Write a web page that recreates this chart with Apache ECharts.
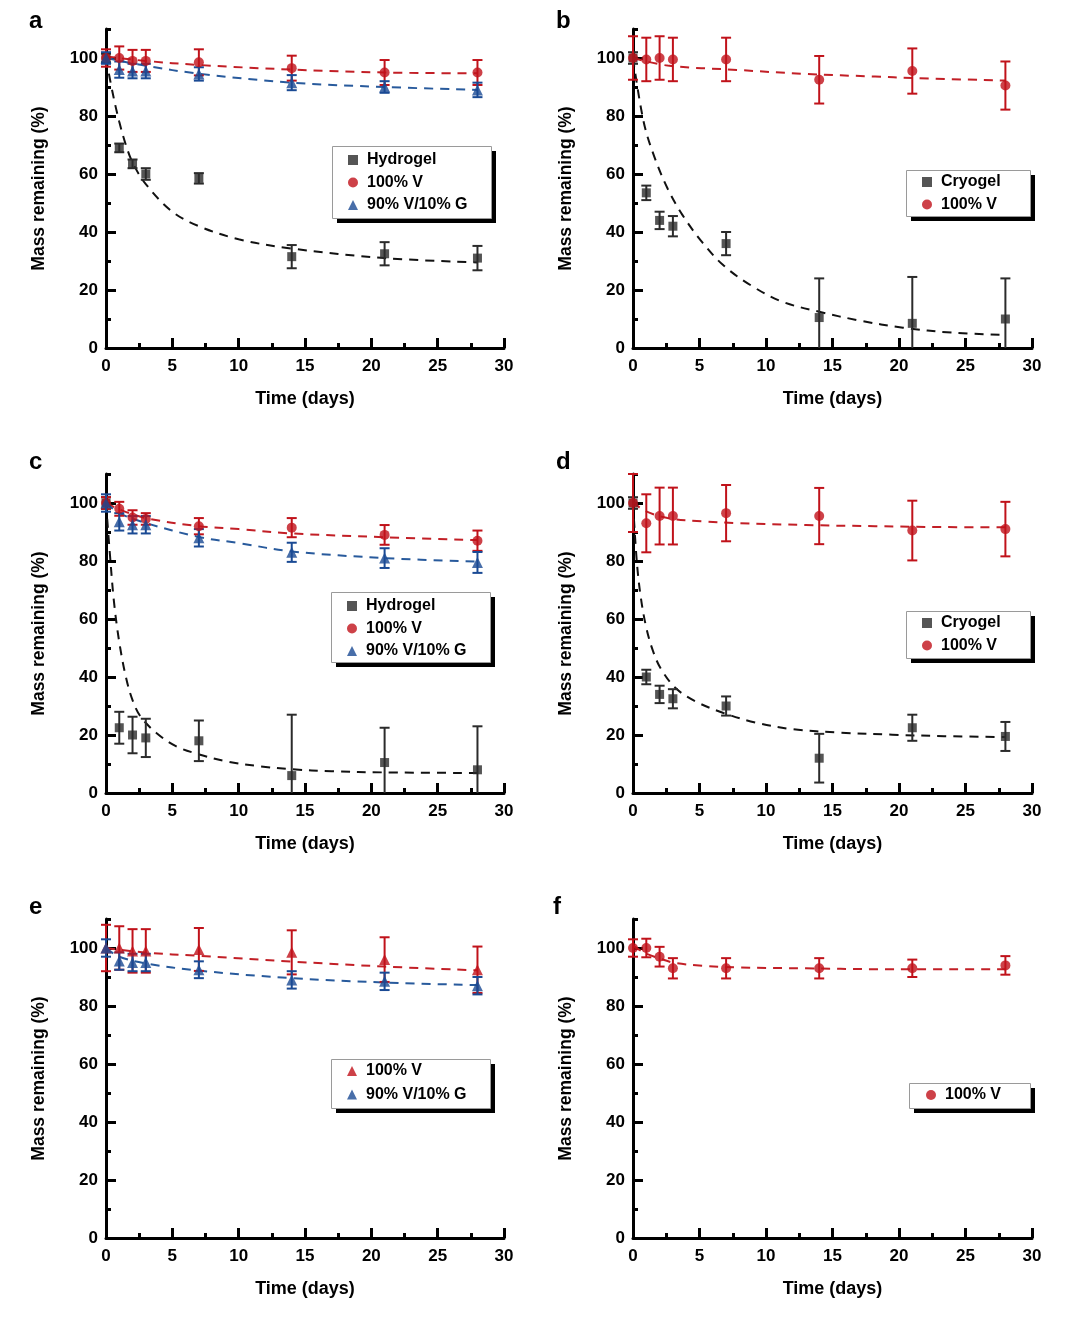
<!DOCTYPE html>
<html>
<head>
<meta charset="utf-8">
<script src="https://cdn.jsdelivr.net/npm/echarts@6/dist/echarts.min.js"></script>
<style>
html,body{margin:0;padding:0;background:#fff;}
#chart{width:1073px;height:1321px;}
</style>
</head>
<body>
<div id="chart"></div>
<script>
// ---------- DATA ----------
const days = [0, 1, 2, 3, 7, 14, 21, 28];
const xTickLabels = [0, 5, 10, 15, 20, 25, 30];
const yTickLabels = [0, 20, 40, 60, 80, 100];
const yMinorTicks = [10, 30, 50, 70, 90, 110];

// panel a
const aHydroMean = [100, 69, 63.5, 60, 58.5, 31.5, 32.5, 31];
const aHydroErr  = [1.5, 1.5, 1.5, 2, 1.8, 4, 4, 4.2];
const aVMean     = [100, 100, 99, 99, 98.5, 96.5, 95, 95];
const aVErr      = [3, 4, 3.8, 3.8, 4.5, 4.3, 4.3, 4.3];
const aVGMean    = [100, 96, 95.5, 95.5, 94.5, 91.5, 90, 89];
const aVGErr     = [2, 2.8, 2.5, 2.5, 2.3, 2.6, 2, 2.5];
const aHydroFitX = [0, 0.5, 1, 1.5, 2, 3, 5, 7, 10, 14, 21, 28];
const aHydroFitY = [100, 88, 78, 70, 64, 56.5, 47, 42, 37.5, 34.3, 31, 29.5];
const aVFitX     = [0, 3, 7, 14, 21, 28];
const aVFitY     = [100.5, 99, 97.6, 96, 95, 94.7];
const aVGFitX    = [0, 3, 7, 14, 21, 28];
const aVGFitY    = [100, 97.3, 94.6, 91.5, 90, 89];

// panel b
const bCryoMean = [100, 53.5, 44, 42, 36, 10.5, 8.5, 10];
const bCryoErr  = [2, 2.5, 3, 3.5, 4, 13.5, 16, 14];
const bVMean    = [100, 99.5, 100, 99.5, 99.5, 92.5, 95.5, 90.5];
const bVErr     = [7.5, 7.5, 7.5, 7.5, 7.5, 8.2, 7.8, 8.3];
const bCryoFitX = [0, 0.8, 1.6, 2.6, 3.7, 5.2, 6.8, 8.9, 11.2, 14, 17, 20.3, 24, 28];
const bCryoFitY = [100, 78, 66, 55, 46, 36.5, 28.5, 21.5, 16, 12.5, 9.5, 7, 5.3, 4.5];
const bVFitX    = [0, 2.6, 7.8, 13, 18.2, 21, 28];
const bVFitY    = [100, 97.4, 95.9, 94.5, 93.6, 93.1, 92.2];

// panel c
const cHydroMean = [100, 22.5, 20, 19, 18, 6, 10.5, 8];
const cHydroErr  = [2, 5.5, 6.3, 6.6, 7, 21, 12, 15];
const cVMean     = [100, 98, 95, 94.5, 92, 91.5, 89, 87];
const cVErr      = [2, 2.4, 2.5, 2, 2.8, 3.3, 3.4, 3.5];
const cVGMean    = [100, 93.5, 92.5, 92.5, 88, 83, 81, 79.5];
const cVGErr     = [3, 3, 3, 3, 3, 3.3, 3.4, 3.6];
const cHydroFitX = [0, 0.3, 0.6, 1, 1.5, 2, 2.6, 3.8, 5.3, 7.1, 9.1, 11.6, 14, 17, 21, 28];
const cHydroFitY = [100, 82, 66, 52, 40, 32, 26.4, 20.7, 16.1, 13.2, 10.9, 9.2, 8.2, 7.5, 7.1, 6.9];
const cVFitX     = [0, 1, 3, 7, 10, 14, 21, 28];
const cVFitY     = [100, 97.8, 94.8, 92, 91, 89.5, 88.2, 87.2];
const cVGFitX    = [0, 1, 3, 7, 10, 14, 21, 28];
const cVGFitY    = [100, 96.5, 93.1, 88.3, 86.2, 83.3, 81, 79.8];

// panel d
const dCryoMean = [100, 40, 34, 32.5, 30, 12, 22.5, 19.5];
const dCryoErr  = [2, 2.5, 3, 3.3, 3.3, 8.4, 4.5, 5];
const dVMean    = [100, 93, 95.5, 95.5, 96.5, 95.5, 90.5, 91];
const dVErr     = [10, 10, 9.8, 9.8, 9.7, 9.7, 10.3, 9.4];
const dCryoFitX = [0, 0.3, 0.6, 1, 1.5, 2.1, 3.2, 4.7, 6.8, 9.2, 12, 15.6, 19.5, 23.4, 28];
const dCryoFitY = [100, 79, 67, 57, 49, 42.8, 36.2, 31.6, 27.6, 24.3, 22, 20.8, 20.1, 19.6, 19.3];
const dVFitX    = [0, 0.8, 2.6, 5.2, 7.8, 13, 18.2, 23.4, 28];
const dVFitY    = [100.5, 97.5, 94.8, 93.7, 93.1, 92.4, 92, 91.7, 91.6];

// panel e
const eVMean  = [100, 100, 99, 99, 99.5, 98.5, 96, 92.5];
const eVErr   = [8, 7.5, 7.5, 7.5, 7.4, 7.6, 7.7, 8];
const eVGMean = [100, 95.5, 95, 95, 92.5, 89, 88.5, 87];
const eVGErr  = [3, 3, 3, 3, 2.9, 3, 3, 3];
const eVFitX  = [0, 3, 7, 14, 21, 28];
const eVFitY  = [100, 98.4, 97.3, 95.3, 93.6, 92.3];
const eVGFitX = [0, 1, 3, 7, 14, 21, 28];
const eVGFitY = [100, 97, 94.7, 92.2, 89.6, 88.1, 87.2];

// panel f
const fVMean = [100, 100, 97, 93, 93, 93, 93, 94];
const fVErr  = [3, 3.2, 3.4, 3.5, 3.5, 3.5, 3, 3.2];
const fVFitX = [0, 0.8, 2.1, 3.2, 5.2, 7.8, 13, 18.2, 28];
const fVFitY = [100.8, 98.5, 96.2, 94.8, 93.9, 93.3, 93, 92.7, 92.7];

// ---------- STYLES ----------
const FONT = '"Liberation Sans", Arial, Helvetica, sans-serif';
const RED = '#c0121a', BLUE = '#1a4a94', DARK = '#2b2b2b';
const kinds = {
  hydro: {name: 'Hydrogel', symbol: 'rect', color: DARK, line: '#111111', size: 9},
  cryo:  {name: 'Cryogel', symbol: 'rect', color: DARK, line: '#111111', size: 9},
  vc:    {name: '100% V', symbol: 'circle', color: RED, line: '#c21f26', size: 10},
  vt:    {name: '100% V', symbol: 'triangle', color: RED, line: '#c21f26', size: 11},
  vg:    {name: '90% V/10% G', symbol: 'triangle', color: BLUE, line: '#285a9c', size: 11}
};

const panels = [
  {label: 'a', groups: [['hydro', aHydroMean, aHydroErr, aHydroFitX, aHydroFitY], ['vc', aVMean, aVErr, aVFitX, aVFitY], ['vg', aVGMean, aVGErr, aVGFitX, aVGFitY]]},
  {label: 'b', groups: [['cryo', bCryoMean, bCryoErr, bCryoFitX, bCryoFitY], ['vc', bVMean, bVErr, bVFitX, bVFitY]]},
  {label: 'c', groups: [['hydro', cHydroMean, cHydroErr, cHydroFitX, cHydroFitY], ['vc', cVMean, cVErr, cVFitX, cVFitY], ['vg', cVGMean, cVGErr, cVGFitX, cVGFitY]]},
  {label: 'd', groups: [['cryo', dCryoMean, dCryoErr, dCryoFitX, dCryoFitY], ['vc', dVMean, dVErr, dVFitX, dVFitY]]},
  {label: 'e', groups: [['vt', eVMean, eVErr, eVFitX, eVFitY], ['vg', eVGMean, eVGErr, eVGFitX, eVGFitY]]},
  {label: 'f', groups: [['vc', fVMean, fVErr, fVFitX, fVFitY]]}
];

// layout (pixels)
const gridLefts = [106, 633];
const gridWidths = [398, 399];
const gridTops = [29, 474, 919];
const gridHeight = 319;
const letterPos = [[29, 9], [556, 9], [29, 450], [556, 450], [29, 895], [553, 895]];
// legend frame boxes [x, y, w, h] and legend content positions
const legendBoxes = [[332, 146, 159, 72], [906, 170, 124, 46], [331, 592, 159, 70], [906, 611, 124, 47], [331, 1059, 159, 49], [909, 1083, 121, 25]];
const legendPos = [
  {left: 348, top: 152, itemGap: 6.5},
  {left: 922, top: 174, itemGap: 6.5},
  {left: 347, top: 598, itemGap: 6.5},
  {left: 922, top: 615, itemGap: 6.5},
  {left: 347, top: 1063, itemGap: 7.5},
  {left: 926, top: 1087, itemGap: 6.5}
];

function errRender(color) {
  return function (params, api) {
    const x = api.value(0), y = api.value(1), e = api.value(2);
    const lo = Math.max(0, y - e);
    const top = api.coord([x, y + e]);
    const bot = api.coord([x, lo]);
    const cw = 5;
    const style = {stroke: color, lineWidth: 2};
    const children = [
      {type: 'line', shape: {x1: top[0], y1: top[1], x2: bot[0], y2: bot[1]}, style: style},
      {type: 'line', shape: {x1: top[0] - cw, y1: top[1], x2: top[0] + cw, y2: top[1]}, style: style}
    ];
    if (y - e > 0) {
      children.push({type: 'line', shape: {x1: bot[0] - cw, y1: bot[1], x2: bot[0] + cw, y2: bot[1]}, style: style});
    }
    return {type: 'group', children: children};
  };
}

const grids = [], xAxes = [], yAxes = [], series = [], legends = [], titles = [], graphics = [];
const axisLineStyle = {color: '#000', width: 3};
const labelStyle = {fontSize: 17, fontWeight: 'bold', color: '#000', fontFamily: FONT};
const nameStyle = {fontSize: 18, fontWeight: 'bold', color: '#000', fontFamily: FONT};

panels.forEach(function (p, i) {
  const col = i % 2, row = Math.floor(i / 2);
  grids.push({left: gridLefts[col], top: gridTops[row], width: gridWidths[col], height: gridHeight});
  xAxes.push({
    gridIndex: i, type: 'value', min: 0, max: 30, interval: 5, position: 'bottom',
    axisLine: {show: true, onZero: false, lineStyle: axisLineStyle},
    axisTick: {show: true, inside: true, length: 10, lineStyle: axisLineStyle},
    minorTick: {show: true, splitNumber: 2, length: 5, lineStyle: axisLineStyle},
    axisLabel: Object.assign({margin: 10, customValues: xTickLabels}, labelStyle),
    splitLine: {show: false},
    name: 'Time (days)', nameLocation: 'middle', nameGap: 42, nameTextStyle: nameStyle
  });
  yAxes.push({
    gridIndex: i, type: 'value', min: 0, max: 110, position: 'left',
    axisLine: {show: true, onZero: false, lineStyle: axisLineStyle},
    axisTick: {show: true, inside: true, length: 10, lineStyle: axisLineStyle, customValues: yTickLabels},
    axisLabel: Object.assign({margin: 8, customValues: yTickLabels}, labelStyle),
    splitLine: {show: false},
    name: 'Mass remaining (%)', nameLocation: 'middle', nameGap: 58, nameTextStyle: Object.assign({}, nameStyle, {fontSize: 17.5})
  });
  yAxes.push({
    gridIndex: i, type: 'value', min: 0, max: 110, position: 'left',
    axisLine: {show: false},
    axisTick: {show: true, inside: true, length: 5, lineStyle: axisLineStyle, customValues: yMinorTicks},
    axisLabel: {show: false},
    splitLine: {show: false}
  });
  titles.push({text: p.label, left: letterPos[i][0], top: letterPos[i][1], padding: 0,
    textStyle: {fontSize: 24, fontWeight: 'bold', color: '#000', fontFamily: FONT}});

  const legendData = [];
  p.groups.forEach(function (g) {
    const k = kinds[g[0]];
    const mean = g[1], err = g[2], fx = g[3], fy = g[4];
    const yIdx = i * 2;
    series.push({
      type: 'line', name: k.name + ' fit ' + p.label, xAxisIndex: i, yAxisIndex: yIdx,
      data: fx.map(function (x, j) { return [x, fy[j]]; }),
      smooth: 0.35, showSymbol: false, symbol: 'none', silent: true, z: 2,
      lineStyle: {type: [9, 7], width: 2, color: k.line}
    });
    series.push({
      type: 'custom', name: k.name + ' err ' + p.label, xAxisIndex: i, yAxisIndex: yIdx,
      data: days.map(function (d, j) { return [d, mean[j], err[j]]; }),
      encode: {x: 0, y: 1}, renderItem: errRender(k.color), clip: false, silent: true, z: 3
    });
    series.push({
      type: 'scatter', name: k.name, xAxisIndex: i, yAxisIndex: yIdx,
      data: days.map(function (d, j) { return [d, mean[j]]; }),
      symbol: k.symbol, symbolSize: k.size, itemStyle: {color: k.color}, clip: false, z: 4
    });
    legendData.push({name: k.name, icon: k.symbol, itemStyle: {color: k.color}});
  });

  const b = legendBoxes[i];
  graphics.push({type: 'rect', left: b[0] + 5, top: b[1] + 5, shape: {width: b[2], height: b[3]},
    style: {fill: '#000'}, silent: true, z: 5});
  graphics.push({type: 'rect', left: b[0], top: b[1], shape: {width: b[2], height: b[3]},
    style: {fill: '#fff', stroke: '#9a9a9a', lineWidth: 1}, silent: true, z: 6});

  const lp = legendPos[i];
  legends.push({
    orient: 'vertical', left: lp.left, top: lp.top, padding: 0, itemGap: lp.itemGap,
    itemWidth: 10, itemHeight: 10, selectedMode: false, z: 10,
    data: legendData,
    textStyle: {fontSize: 16, fontWeight: 'bold', color: '#000', fontFamily: FONT, padding: [0, 0, 0, 4]}
  });
});

const chart = echarts.init(document.getElementById('chart'), null, {renderer: 'canvas'});
chart.setOption({
  animation: false,
  backgroundColor: '#fff',
  title: titles,
  grid: grids,
  xAxis: xAxes,
  yAxis: yAxes,
  legend: legends,
  graphic: {elements: graphics},
  series: series
});
</script>
</body>
</html>
